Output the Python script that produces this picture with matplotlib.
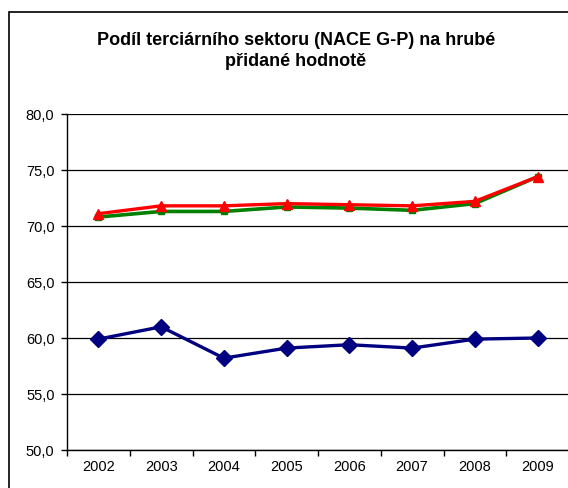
import matplotlib
matplotlib.use("Agg")
import matplotlib.pyplot as plt
from matplotlib.patches import Rectangle
from matplotlib.ticker import FixedLocator, FuncFormatter

plt.rcParams['font.family'] = ['Liberation Sans', 'DejaVu Sans']

years = ["2002", "2003", "2004", "2005", "2006", "2007", "2008", "2009"]
blue_vals = [59.9, 61.0, 58.2, 59.1, 59.4, 59.1, 59.9, 60.0]
green_vals = [70.8, 71.3, 71.3, 71.7, 71.6, 71.4, 72.0, 74.4]
red_vals = [71.1, 71.8, 71.8, 72.0, 71.9, 71.8, 72.2, 74.4]
y_ticks = [50, 55, 60, 65, 70, 75, 80]
title = "Podíl terciárního sektoru (NACE G-P) na hrubé\npřidané hodnotě"

fig = plt.figure(figsize=(5.68, 4.88), dpi=100)
fig.patch.set_facecolor("white")

# outer chart border
fig.patches.append(Rectangle((9/568, -0.2), 1.2, 0.2 + 1 - 12/488,
                             transform=fig.transFigure, fill=False,
                             edgecolor="black", linewidth=1.2))

ax = fig.add_axes([67/568, 1 - 450/488, 502/568, 336/488])
x = list(range(len(years)))

ax.plot(x, blue_vals, color="#000080", linewidth=2.4, marker="D",
        markersize=8.5, zorder=3)
ax.plot(x, green_vals, color="#008000", linewidth=2.6, marker="s",
        markersize=5, zorder=3)
ax.plot(x, red_vals, color="#FF0000", linewidth=2.4, marker="^",
        markersize=6.5, zorder=4)

ax.set_xlim(-0.5, len(years) - 0.5)
ax.set_ylim(50, 80)
ax.set_yticks(y_ticks)
ax.yaxis.set_major_formatter(FuncFormatter(lambda v, p: f"{v:.1f}".replace(".", ",")))
ax.set_xticks(x)
ax.set_xticklabels(years)
ax.xaxis.set_minor_locator(FixedLocator([i + 0.5 for i in range(-1, len(years))]))
ax.tick_params(axis="x", which="major", length=0, labelsize=10.5, pad=7)
ax.tick_params(axis="x", which="minor", length=4, width=1, direction="out")
ax.tick_params(axis="y", length=4, width=1, direction="out", labelsize=10.5, pad=5)

ax.grid(axis="y", color="black", linewidth=0.9)
ax.set_axisbelow(True)
for s in ["top", "right"]:
    ax.spines[s].set_visible(False)
for s in ["left", "bottom"]:
    ax.spines[s].set_linewidth(1)
    ax.spines[s].set_color("black")

fig.text(296/568, 1 - 51/488, title, ha="center", va="center",
         fontsize=13, fontweight="bold", linespacing=1.3)

fig.savefig("out.png", dpi=100)
